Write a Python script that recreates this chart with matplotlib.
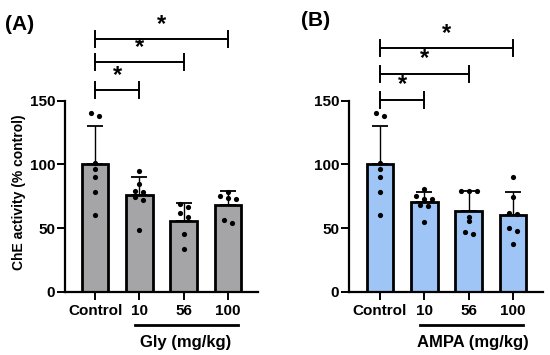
import numpy as np
import matplotlib
matplotlib.use("Agg")
import matplotlib.pyplot as plt
import matplotlib.transforms as mtransforms

plt.rcParams['font.family'] = ['Liberation Sans', 'DejaVu Sans']
plt.rcParams['font.weight'] = 'bold'

categories = ["Control", "10", "56", "100"]

gly_values = [
    [140, 138, 101, 96, 90, 78, 60],
    [94.7, 84.3, 79.3, 78.5, 74.6, 72, 48.4],
    [68.8, 66.2, 61.5, 58.9, 45.3, 33.3],
    [78.5, 75.1, 73.3, 72.5, 56.5, 54.2],
]
ampa_values = [
    [140, 138, 101, 96, 90, 78, 60],
    [80.5, 75.5, 73, 72.5, 68, 67, 54.5],
    [79.3, 79.3, 79.3, 58.9, 55.7, 47.1, 45],
    [90.3, 74.1, 61.5, 60.8, 49.8, 47.4, 37.7],
]

gly_brackets = [158, 180, 198]
ampa_brackets = [150.5, 171, 191]
bracket_pairs = [(0, 1), (0, 2), (0, 3)]

panel_labels = ["(A)", "(B)"]
group_labels = ["Gly (mg/kg)", "AMPA (mg/kg)"]
colors = ["#a5a5a8", "#9fc5f6"]
ylabel = "ChE activity (% control)"

W, H = 550, 355
fig = plt.figure(figsize=(W / 100, H / 100), dpi=100)

px_per_unit_y = 1.274
ymax = 220
zero_px = 291.7
ax_h = ymax * px_per_unit_y
bottom = (H - zero_px) / H

def swarm_offsets(vals, thr=2.8, step=0.18):
    order = np.argsort(vals)[::-1]
    offs = np.zeros(len(vals))
    clusters = []
    cur = [order[0]]
    for i in order[1:]:
        if abs(vals[cur[-1]] - vals[i]) < thr:
            cur.append(i)
        else:
            clusters.append(cur)
            cur = [i]
    clusters.append(cur)
    for c in clusters:
        n = len(c)
        for k, i in enumerate(c):
            offs[i] = (k - (n - 1) / 2) * step
    return offs

def panel(left_px, xlim, data, brackets, color, glabel, label_pos):
    width_units = xlim[1] - xlim[0]
    ax_w = width_units * 44.3
    ax = fig.add_axes([left_px / W, bottom, ax_w / W, ax_h / H])
    x = np.arange(len(categories))
    means = [np.mean(v) for v in data]
    sds = [np.std(v, ddof=1) for v in data]
    ax.bar(x, means, width=0.6, color=color, edgecolor="black", linewidth=2.0, zorder=2)
    ax.errorbar(x, means, yerr=[np.zeros(len(x)), sds], fmt="none", ecolor="black",
                elinewidth=1.0, capsize=5.5, capthick=1.3, zorder=3)
    for i, v in enumerate(data):
        v = np.array(v, dtype=float)
        offs = swarm_offsets(v)
        ax.scatter(x[i] + offs, v, s=14, color="black", zorder=4, linewidths=0)
    ax.set_xlim(*xlim)
    ax.set_ylim(0, ymax)
    ax.set_yticks([0, 50, 100, 150])
    ax.set_xticks(x)
    ax.set_xticklabels(categories, fontsize=11, fontweight="bold")
    ax.tick_params(axis="y", labelsize=11, width=1.4, length=5.5, pad=1.5)
    ax.tick_params(axis="x", width=1.4, length=5.5, pad=3)
    for t in ax.get_yticklabels():
        t.set_fontweight("bold")
    ax.spines["top"].set_visible(False)
    ax.spines["right"].set_visible(False)
    ax.spines["left"].set_bounds(0, 150)
    ax.spines["left"].set_linewidth(1.6)
    ax.spines["bottom"].set_linewidth(1.6)
    ax.patch.set_alpha(0)
    for (a, b), yb in zip(bracket_pairs, brackets):
        ax.plot([a, b], [yb, yb], color="black", lw=1.4, clip_on=False)
        for xx in (a, b):
            ax.plot([xx, xx], [yb - 6.3, yb + 6.3], color="black", lw=1.4, clip_on=False)
        ax.text((a + b) / 2, yb + 3, "*", ha="center", va="bottom", fontsize=17,
                fontweight="bold")
    trans = mtransforms.blended_transform_factory(ax.transData, ax.transAxes)
    yl = -(325 - zero_px) / ax_h
    ax.plot([0.9, 3.23], [yl, yl], color="black", lw=2.0, transform=trans, clip_on=False)
    ax.text(label_pos, -(342 - zero_px) / ax_h, glabel, transform=trans, ha="center",
            va="center", fontsize=12, fontweight="bold")
    return ax

axA = panel(65, (-0.68, 3.68), gly_values, gly_brackets, colors[0], group_labels[0], 2.04)
axB = panel(349, (-0.70, 3.68), ampa_values, ampa_brackets, colors[1], group_labels[1], 2.09)

fig.text(20 / W, 1 - 24 / H, panel_labels[0], ha="center", va="center", fontsize=15,
         fontweight="bold")
fig.text(316 / W, 1 - 20 / H, panel_labels[1], ha="center", va="center", fontsize=15,
         fontweight="bold")
fig.text(19 / W, 1 - 192 / H, ylabel, rotation=90, ha="center", va="center", fontsize=10,
         fontweight="bold")

fig.savefig("out.png", dpi=100)
